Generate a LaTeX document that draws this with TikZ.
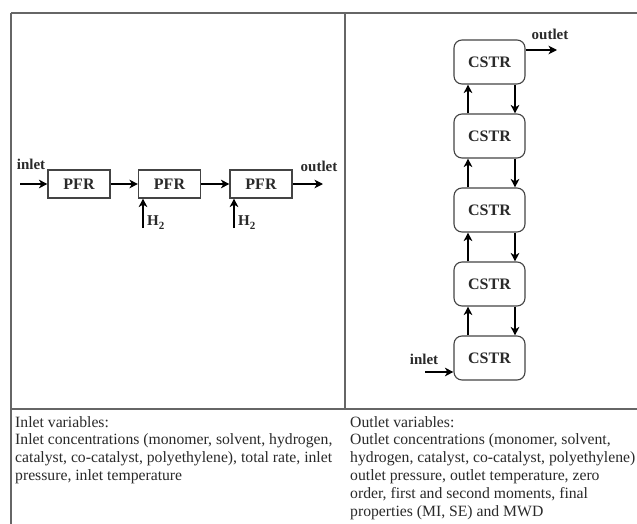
\documentclass[tikz,border=0pt]{standalone}
\usepackage{fontspec}
\setmainfont{Liberation Serif}
\usetikzlibrary{arrows.meta}
\definecolor{gridc}{HTML}{666666}
\definecolor{boxc}{HTML}{444444}
\definecolor{txtc}{HTML}{2A2A2A}
\begin{document}
\begin{tikzpicture}[x=1pt,y=-1pt,
  gridline/.style={draw=gridc,line width=1.5pt},
  pfrbox/.style={draw=boxc,line width=1.1pt,minimum width=62pt,minimum height=28pt,inner sep=0pt,font=\fontsize{16}{16}\selectfont\bfseries,text=txtc},
  cstrbox/.style={draw=boxc,line width=1.1pt,rounded corners=8pt,minimum width=71pt,minimum height=44pt,inner sep=0pt,font=\fontsize{16}{16}\selectfont\bfseries,text=txtc},
  flow/.style={draw=black,line width=1.7pt,-{Stealth[length=8.5pt,width=8.5pt,inset=2.5pt]}},
  lbl/.style={inner sep=0pt,font=\fontsize{15}{15}\selectfont\bfseries,text=txtc},
  txt/.style={anchor=base west,inner sep=0pt,font=\fontsize{15.7}{17.8}\selectfont,text=txtc}]
\useasboundingbox (0,0) rectangle (637,524);
\fill[white] (0,0) rectangle (637,524);
% table grid
\draw[gridline] (11,13) -- (637,13);
\draw[gridline] (11,13) -- (11,524);
\draw[gridline] (11,409) -- (637,409);
\draw[gridline] (345,13) -- (345,409);
% PFR train
\node[pfrbox] (p1) at (79,184) {PFR};
\node[pfrbox] (p2) at (169.5,184) {PFR};
\node[pfrbox] (p3) at (261,184) {PFR};
\coordinate (pin) at (20,184);
\coordinate (pout) at (323,184);
\coordinate (h1) at (143,228);
\coordinate (h2) at (234,228);
\draw[flow] (pin) -- (p1.west);
\draw[flow] (p1.east) -- (p2.west);
\draw[flow] (p2.east) -- (p3.west);
\draw[flow] (p3.east) -- (pout);
\draw[flow] (h1) -- (h1 |- p2.south);
\draw[flow] (h2) -- (h2 |- p3.south);
\node[lbl] (linlet) at (31,164) {inlet};
\node[lbl] (loutlet) at (319,166) {outlet};
\node[lbl,anchor=west] (lh1) at (147,223) {H\raisebox{-4pt}{\fontsize{11}{11}\selectfont 2}};
\node[lbl,anchor=west] (lh2) at (238,223) {H\raisebox{-4pt}{\fontsize{11}{11}\selectfont 2}};
% CSTR cascade
\node[cstrbox] (c5) at (489.5,62) {CSTR};
\node[cstrbox] (c4) at (489.5,136) {CSTR};
\node[cstrbox] (c3) at (489.5,210) {CSTR};
\node[cstrbox] (c2) at (489.5,284) {CSTR};
\node[cstrbox] (c1) at (489.5,358) {CSTR};
\foreach \lo/\hi in {c1/c2,c2/c3,c3/c4,c4/c5}{
  \draw[flow] ([xshift=-21.5pt]\lo.north) -- ([xshift=-21.5pt]\hi.south);
  \draw[flow] ([xshift=25.5pt]\hi.south) -- ([xshift=25.5pt]\lo.north);
}
\coordinate (cout) at (557,50);
\coordinate (cin) at (425,372);
\draw[flow] (cout -| c5.east) -- (cout);
\draw[flow] (cin) -- (cin -| c1.west);
\node[lbl] (coutlet) at (550,34) {outlet};
\node[lbl] (cinlet) at (424,359) {inlet};
% variables text
\node[txt] (a1) at (15,427) {Inlet variables:};
\node[txt] (a2) at (15,444.8) {Inlet concentrations (monomer, solvent, hydrogen,};
\node[txt] (a3) at (15,462.6) {catalyst, co-catalyst, polyethylene), total rate, inlet};
\node[txt] (a4) at (15,480.4) {pressure, inlet temperature};
\node[txt] (b1) at (350,427) {Outlet variables:};
\node[txt] (b2) at (350,444.8) {Outlet concentrations (monomer, solvent,};
\node[txt] (b3) at (350,462.6) {hydrogen, catalyst, co-catalyst, polyethylene)};
\node[txt] (b4) at (350,480.4) {outlet pressure, outlet temperature, zero};
\node[txt] (b5) at (350,498.2) {order, first and second moments, final};
\node[txt] (b6) at (350,516) {properties (MI, SE) and MWD};
\end{tikzpicture}
\end{document}
